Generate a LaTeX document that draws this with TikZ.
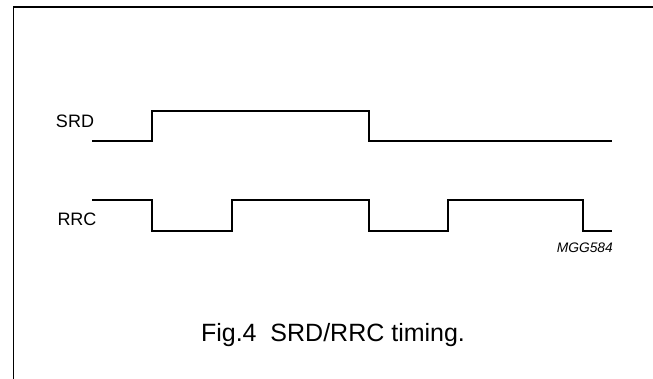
\documentclass[tikz,border=0pt]{standalone}
\usepackage{fontspec}
\setmainfont{Liberation Sans}
\usetikzlibrary{positioning}

\begin{document}
\begin{tikzpicture}[x=1pt,y=-1pt,
    wave/.style={line width=2.5pt,line join=miter},
    siglabel/.style={font=\fontsize{18}{20}\selectfont,inner sep=0pt}]
    \useasboundingbox (0,0) rectangle (653,379);

    % frame
    \draw[line width=1.3pt] (13.5,379) -- (13.5,7) -- (653,7);

    % signal names
    \node[siglabel] (srd) at (75,121) {SRD};
    \node[siglabel] (rrc) at (77,219) {RRC};

    % SRD
    \draw[wave] (92,141) -- (152,141) -- (152,111) -- (369,111) -- (369,141) -- (612,141);
    % RRC
    \draw[wave] (92,200) -- (152,200) -- (152,231) -- (232,231) -- (232,200)
        -- (369,200) -- (369,231) -- (448,231) -- (448,200) -- (583,200)
        -- (583,231) -- (612,231);

    \node[anchor=east,inner sep=0pt,font=\fontsize{13.8}{15}\selectfont\itshape] (code) at (613,248) {MGG584};
    \node[font=\fontsize{25}{30}\selectfont,inner sep=0pt] (caption) at (333,335) {Fig.4\ \ SRD/RRC timing.};
\end{tikzpicture}
\end{document}
